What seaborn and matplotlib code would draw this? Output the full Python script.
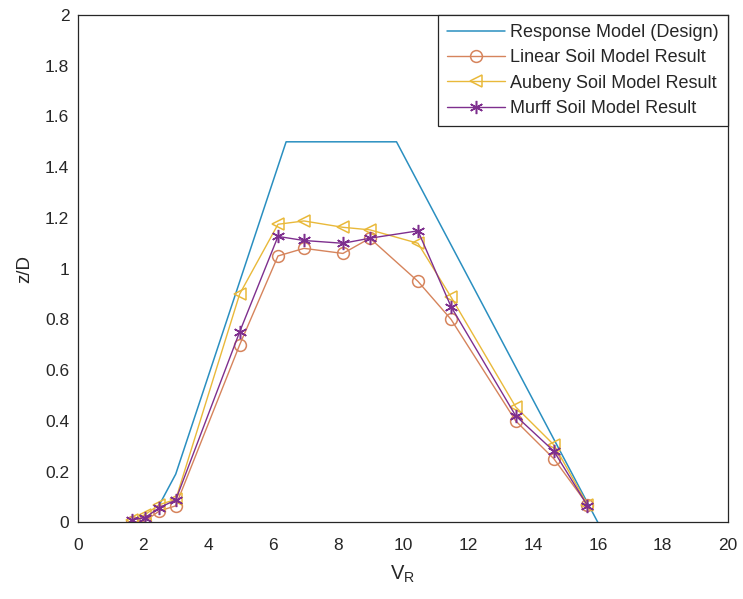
import matplotlib
matplotlib.use("Agg")
import matplotlib.pyplot as plt
import seaborn as sns
import pandas as pd

# Design response curve
design_vr = [2.5, 3.0, 6.4, 9.8, 16.0]
design_z = [0.07, 0.19, 1.5, 1.5, 0.0]

# Simulated responses at the tested reduced velocities
vr = [1.65, 2.05, 2.5, 3.0, 4.97, 6.15, 6.95, 8.15, 8.98, 10.46, 11.48, 13.47, 14.65, 15.68]
linear_z = [0.0, 0.005, 0.045, 0.065, 0.70, 1.05, 1.08, 1.06, 1.12, 0.95, 0.80, 0.40, 0.25, 0.07]
aubeny_z = [0.01, 0.03, 0.07, 0.09, 0.90, 1.175, 1.188, 1.163, 1.153, 1.10, 0.888, 0.455, 0.305, 0.07]
murff_z = [0.01, 0.018, 0.058, 0.088, 0.751, 1.127, 1.111, 1.10, 1.12, 1.149, 0.85, 0.42, 0.28, 0.066]

labels = ["Response Model (Design)", "Linear Soil Model Result",
          "Aubeny Soil Model Result", "Murff Soil Model Result"]

x_ticks = list(range(0, 21, 2))
y_ticks = [0, 0.2, 0.4, 0.6, 0.8, 1, 1.2, 1.4, 1.6, 1.8, 2]
y_tick_labels = ["0", "0.2", "0.4", "0.6", "0.8", "1", "1.2", "1.4", "1.6", "1.8", "2"]

sns.set_style("white")
plt.rcParams["font.family"] = ["Liberation Sans", "DejaVu Sans"]
plt.rcParams["mathtext.default"] = "regular"

fig = plt.figure(figsize=(7.43, 5.99), dpi=100)
ax = fig.add_axes([0.1054, 0.128, 0.874, 0.847])

colors = ["#2a8fc0", "#d6845c", "#e9b93a", "#7e2f8e"]

design_df = pd.DataFrame({"vr": design_vr, "z": design_z})
sns.lineplot(data=design_df, x="vr", y="z", sort=False, ax=ax, color=colors[0],
             lw=1.1, label=labels[0])

series = [linear_z, aubeny_z, murff_z]
markers = ["o", "<", (6, 2, 0)]
sizes = [8.5, 8.5, 9.5]
for vals, mk, ms, col, lab in zip(series, markers, sizes, colors[1:], labels[1:]):
    df = pd.DataFrame({"vr": vr, "z": vals})
    sns.lineplot(data=df, x="vr", y="z", sort=False, ax=ax, color=col, lw=1.0,
                 marker=mk, markersize=ms, markerfacecolor="none",
                 markeredgecolor=col, markeredgewidth=1.1, label=lab)

ax.set_xlim(0, 20)
ax.set_ylim(0, 2)
ax.set_xticks(x_ticks)
ax.set_yticks(y_ticks)
ax.set_yticklabels(y_tick_labels)
ax.tick_params(direction="in", length=4, width=0.8, labelsize=12.5,
               colors="#262626", top=False, right=False)
ax.tick_params(axis="x", pad=11)
ax.tick_params(axis="y", pad=6.5)
for s in ax.spines.values():
    s.set_color("#262626")
    s.set_linewidth(0.9)

ax.set_xlabel("$V_R$", fontsize=14.5, color="#262626", labelpad=8)
ax.set_ylabel("z/D", fontsize=13.5, color="#262626", labelpad=8.5)

leg = ax.legend(loc="upper right", fontsize=13, frameon=True, fancybox=False,
                borderaxespad=0, handlelength=3.2, handletextpad=0.3,
                edgecolor="#262626", framealpha=1, borderpad=0.5,
                labelspacing=0.46)
leg.get_frame().set_linewidth(0.9)

fig.savefig("out.png", dpi=100)
